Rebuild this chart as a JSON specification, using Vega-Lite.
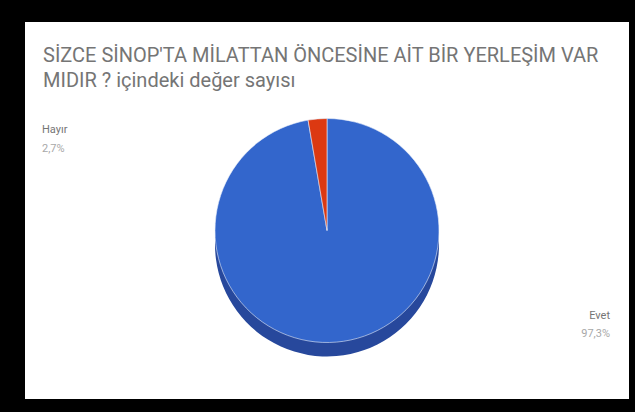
{
  "$schema": "https://vega.github.io/schema/vega-lite/v6.json",
  "width": 635,
  "height": 412,
  "autosize": {"type": "fit", "contains": "padding"},
  "padding": {"left": 25, "top": 22, "right": 6, "bottom": 13},
  "background": "black",
  "view": {"fill": "white", "stroke": null},
  "config": {"font": "Roboto"},
  "title": {
    "text": ["SİZCE SİNOP'TA MİLATTAN ÖNCESİNE AİT BİR YERLEŞİM VAR", "MIDIR ? içindeki değer sayısı"],
    "anchor": "start",
    "frame": "group",
    "orient": "top",
    "baseline": "top",
    "offset": -69,
    "dx": 18,
    "font": "Roboto",
    "fontSize": 20,
    "fontWeight": "normal",
    "color": "#757575",
    "lineHeight": 25
  },
  "data": {
    "values": [
      {"answer": "Evet", "count": 36, "percent": "97,3%"},
      {"answer": "Hayır", "count": 1, "percent": "2,7%"}
    ]
  },
  "transform": [
    {"stack": "count", "groupby": [], "sort": [{"field": "answer", "order": "ascending"}], "as": ["start", "end"]}
  ],
  "layer": [
    {
      "mark": {"type": "arc", "outerRadius": 112, "yOffset": 34, "fill": "#27489c"},
      "encoding": {
        "theta": {"field": "start", "type": "quantitative", "stack": null},
        "theta2": {"field": "end"}
      }
    },
    {
      "mark": {"type": "arc", "outerRadius": 112, "yOffset": 20, "stroke": "#e8eefa", "strokeWidth": 0.6},
      "encoding": {
        "theta": {"field": "start", "type": "quantitative", "stack": null},
        "theta2": {"field": "end"},
        "color": {"field": "answer", "type": "nominal", "scale": {"domain": ["Evet", "Hayır"], "range": ["#3366cc", "#dc3912"]}, "legend": null}
      }
    },
    {
      "transform": [{"filter": "datum.answer === 'Hayır'"}],
      "mark": {"type": "text", "radius": 112, "yOffset": 20, "align": "left", "baseline": "alphabetic", "dx": -285, "dy": 14, "fontSize": 11, "color": "#757575"},
      "encoding": {
        "theta": {"field": "end", "type": "quantitative", "stack": null},
        "text": {"field": "answer"}
      }
    },
    {
      "transform": [{"filter": "datum.answer === 'Hayır'"}],
      "mark": {"type": "text", "radius": 112, "yOffset": 20, "align": "left", "baseline": "alphabetic", "dx": -285, "dy": 33, "fontSize": 11, "color": "#a8a8a8"},
      "encoding": {
        "theta": {"field": "end", "type": "quantitative", "stack": null},
        "text": {"field": "percent"}
      }
    },
    {
      "transform": [{"filter": "datum.answer === 'Evet'"}],
      "mark": {"type": "text", "radius": 112, "yOffset": 20, "align": "right", "baseline": "alphabetic", "dx": 283, "dy": 200, "fontSize": 11, "color": "#757575"},
      "encoding": {
        "theta": {"field": "start", "type": "quantitative", "stack": null},
        "text": {"field": "answer"}
      }
    },
    {
      "transform": [{"filter": "datum.answer === 'Evet'"}],
      "mark": {"type": "text", "radius": 112, "yOffset": 20, "align": "right", "baseline": "alphabetic", "dx": 283, "dy": 218, "fontSize": 11, "color": "#a8a8a8"},
      "encoding": {
        "theta": {"field": "start", "type": "quantitative", "stack": null},
        "text": {"field": "percent"}
      }
    }
  ]
}
